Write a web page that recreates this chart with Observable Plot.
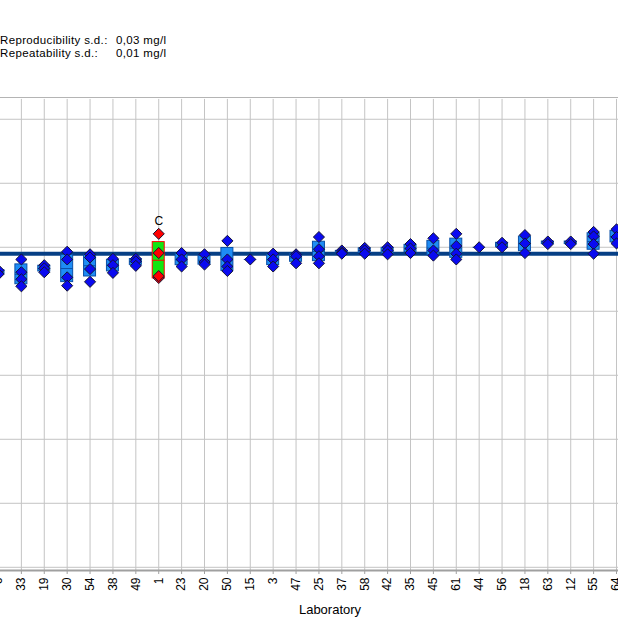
<!DOCTYPE html>
<html>
<head>
<meta charset="utf-8">
<script src="https://cdn.jsdelivr.net/npm/d3@7"></script>
<script src="https://cdn.jsdelivr.net/npm/@observablehq/plot@0.6"></script>
<style>
  html, body { margin: 0; padding: 0; background: #fff; }
  body { width: 618px; height: 618px; overflow: hidden; position: relative; font-family: "Liberation Sans", Arial, sans-serif; }
  .hdr { position: absolute; z-index: 2; font-size: 11.5px; line-height: 12px; letter-spacing: 0.35px; color: #000; white-space: nowrap; }
  #chart { position: absolute; left: 0; top: 0; z-index: 1; }
  #xlabel { position: absolute; z-index: 2; top: 602px; left: 330px; transform: translateX(-50%); font-size: 13px; line-height: 15px; color: #000; }
</style>
</head>
<body>
<div class="hdr" style="left:0px; top:34px;">Reproducibility s.d.:</div>
<div class="hdr" style="left:116px; top:34px;">0,03 mg/l</div>
<div class="hdr" style="left:0px; top:47px;">Repeatability s.d.:</div>
<div class="hdr" style="left:116px; top:47px;">0,01 mg/l</div>
<div id="chart"></div>
<div id="xlabel">Laboratory</div>
<script>
// Laboratory codes, in plotted order
const labs = ["6","33","19","30","54","38","49","1","23","20","50","15","3","47","25","37","58","42","35","45","61","44","56","18","63","12","55","64"];
// Replicate results per laboratory (mg/l)
const results = [
  [0.464, 0.458],
  [0.481, 0.461, 0.450, 0.439],
  [0.472, 0.467, 0.461],
  [0.493, 0.481, 0.453, 0.440],
  [0.489, 0.484, 0.466, 0.446],
  [0.482, 0.472, 0.460],
  [0.482, 0.478, 0.471],
  [0.521, 0.491, 0.452, 0.455],
  [0.491, 0.481, 0.470],
  [0.489, 0.477, 0.473],
  [0.510, 0.481, 0.470, 0.463],
  [0.481],
  [0.490, 0.481, 0.470],
  [0.489, 0.486, 0.475],
  [0.516, 0.497, 0.486, 0.475],
  [0.495, 0.492, 0.490],
  [0.499, 0.495, 0.490],
  [0.500, 0.495, 0.489],
  [0.505, 0.498, 0.491],
  [0.514, 0.495, 0.487],
  [0.521, 0.502, 0.490, 0.481],
  [0.500],
  [0.507, 0.500],
  [0.519, 0.506, 0.491],
  [0.509, 0.505],
  [0.509, 0.505],
  [0.524, 0.517, 0.505, 0.490],
  [0.528, 0.516, 0.506]
];
// Flagged laboratories (C = Cochran outlier)
const flaggedLabs = ["1"];
const flagText = ["C"];
// Assigned value (mg/l)
const assignedValue = [0.490];
// Horizontal grid values
const yGrid = [0, 0.1, 0.2, 0.3, 0.4, 0.5, 0.6, 0.7];
const yDomain = [-0.005, 0.734];

const points = [];
const stats = [];
labs.forEach((lab, i) => {
  const vals = results[i];
  vals.forEach(v => points.push({lab, value: v, flagged: flaggedLabs.includes(lab)}));
  const n = vals.length;
  const m = d3.mean(vals);
  const sd = n > 1 ? Math.sqrt(d3.variance(vals) * (n - 1) / n) : 0;
  stats.push({lab, mean: m, lo: m - sd, hi: m + sd, max: d3.max(vals), flagged: flaggedLabs.includes(lab)});
});
const flags = flaggedLabs.map((lab, i) => ({lab, text: flagText[i], y: stats.find(s => s.lab === lab).max}));

const n = labs.length;
const step = 618 / (n - 1);
const pad = 0.476;
const x0 = -2 - step * (1 + pad) / 2;
const x1 = x0 + step * (n + pad);

const chart = Plot.plot({
  width: 618,
  height: 618,
  marginTop: 97,
  marginBottom: 48,
  marginLeft: 0,
  marginRight: 0,
  style: {fontFamily: "'Liberation Sans', Arial, sans-serif", fontSize: "12px", background: "#fff", color: "#000"},
  x: {type: "band", domain: labs, range: [x0, x1], padding: pad, align: 0.5, round: false, axis: null},
  y: {domain: yDomain, axis: null},
  marks: [
    Plot.ruleY(yGrid, {stroke: "#c4c4c4", strokeWidth: 1}),
    Plot.ruleX(labs, {x: d => d, y1: yDomain[0], y2: yDomain[1] - 0.003, stroke: "#c4c4c4", strokeWidth: 1}),
    Plot.ruleY([yDomain[1]], {stroke: "#b4b4b4", strokeWidth: 1}),
    Plot.ruleY([yDomain[0]], {stroke: "#a0a0a0", strokeWidth: 2}),
    Plot.ruleY(assignedValue, {stroke: "#063f85", strokeWidth: 4}),
    Plot.barY(stats, {x: "lab", y1: "lo", y2: "hi", fill: d => d.flagged ? "#11e611" : "#1e8cf5", stroke: d => d.flagged ? "#ff0000" : "#0a50a8", strokeWidth: 1, insetLeft: 0, insetRight: 0}),
    Plot.tickY(stats, {x: "lab", y: "mean", stroke: d => d.flagged ? "#ff0000" : "#0a50a8", strokeWidth: 1}),
    Plot.dot(points, {x: "lab", y: "value", symbol: "diamond2", r: 5, fill: d => d.flagged ? "#ff0000" : "#0a0af0", stroke: "#141432", strokeWidth: 1}),
    Plot.text(flags, {x: "lab", y: "y", text: "text", dy: -13, fontSize: 12, fill: "#000"}),
    Plot.axisX({tickRotate: -90, tickSize: 4, tickPadding: 3, label: null, fontSize: 12, stroke: "#a0a0a0", anchor: "bottom"})
  ]
});
document.getElementById("chart").appendChild(chart);
</script>
</body>
</html>
